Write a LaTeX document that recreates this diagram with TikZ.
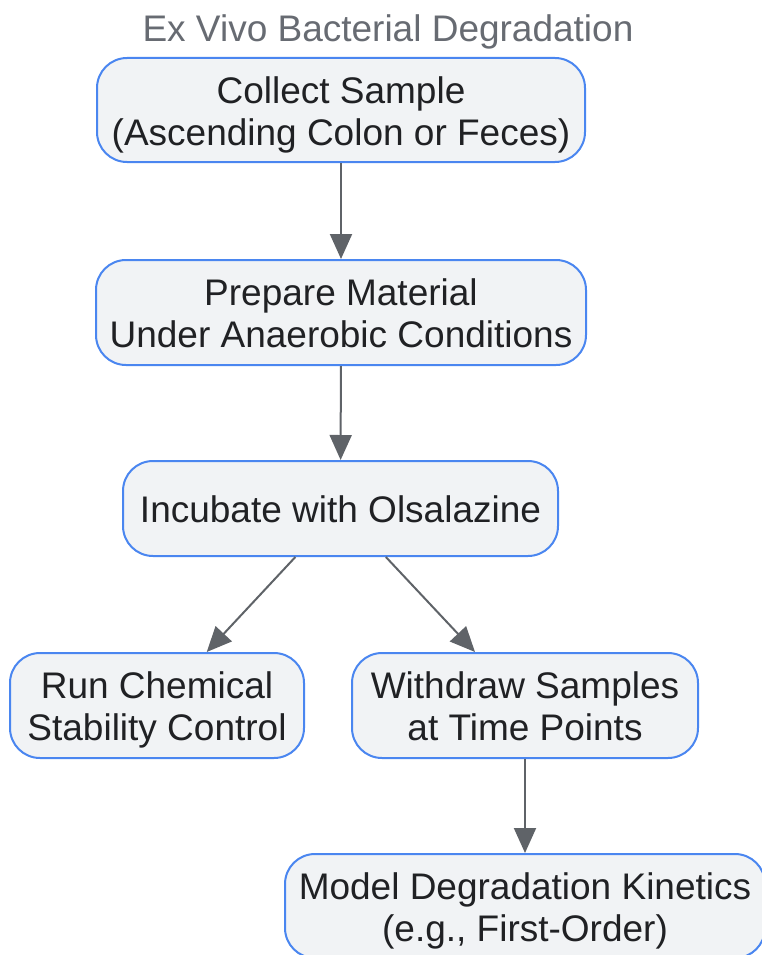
\documentclass[tikz,border=0pt]{standalone}
\usepackage{fontspec}
\setmainfont{Liberation Sans}
\usetikzlibrary{arrows.meta}

\definecolor{boxFill}{HTML}{F1F3F5}
\definecolor{boxLine}{HTML}{4A86F0}
\definecolor{arrowGray}{HTML}{5F6368}
\definecolor{textDark}{HTML}{202124}
\definecolor{titleGray}{HTML}{676B72}

% box text, set a little low as in the reference
\newcommand{\boxText}[1]{\raisebox{-6pt}[\height][\depth]{\begin{tabular}{@{}c@{}}#1\end{tabular}}}

\tikzset{
    stepbox/.style={draw=boxLine, fill=boxFill, line width=2pt, rounded corners=30pt,
        text=textDark, inner sep=0pt,
        font=\fontsize{37}{42}\selectfont},
    flow/.style={draw=arrowGray, line width=2pt, -{Triangle[length=25pt,width=22pt]}},
    heading/.style={text=titleGray, font=\fontsize{37}{42}\selectfont}
}

\begin{document}
\begin{tikzpicture}[x=1pt, y=-1pt]
        \pgfmathsetmacro{\midX}{341}
        \pgfmathsetmacro{\rowH}{105}

        \useasboundingbox (0,0) rectangle (761,955);

        \node[heading] (title) at (388,32) {Ex Vivo Bacterial Degradation};

        \node[stepbox, minimum width=488pt, minimum height=104pt] (collect) at (\midX,110)
            {\boxText{Collect Sample\\(Ascending Colon or Feces)}};
        \node[stepbox, minimum width=490pt, minimum height=\rowH pt] (prepare) at (\midX,312.5)
            {\boxText{Prepare Material\\Under Anaerobic Conditions}};
        \node[stepbox, minimum width=435pt, minimum height=95pt] (incubate) at (340.5,508.5)
            {\boxText{Incubate with Olsalazine}};
        \node[stepbox, minimum width=294pt, minimum height=\rowH pt] (control) at (157,705.5)
            {\boxText{Run Chemical\\Stability Control}};
        \node[stepbox, minimum width=346pt, minimum height=\rowH pt] (withdraw) at (525,705.5)
            {\boxText{Withdraw Samples\\at Time Points}};
        \node[stepbox, minimum width=480pt, minimum height=104pt] (kinetics) at (525,906)
            {\boxText{Model Degradation Kinetics\\(e.g., First-Order)}};

        \draw[flow] (collect) -- (prepare);
        \draw[flow] (prepare) -- (incubate);
        \draw[flow] (incubate) -- (control);
        \draw[flow] (incubate) -- (withdraw);
        \draw[flow] (withdraw) -- (kinetics);
    \end{tikzpicture}
\end{document}
